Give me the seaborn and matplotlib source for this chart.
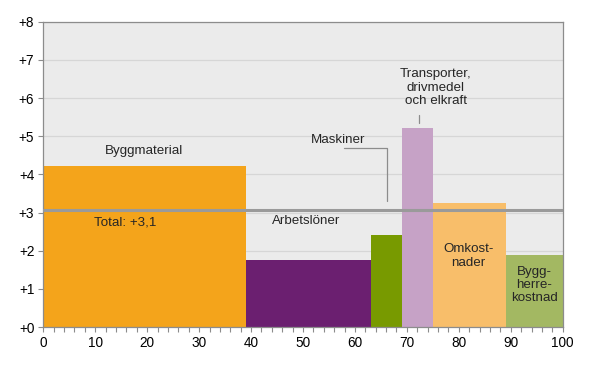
import matplotlib
matplotlib.use("Agg")
import matplotlib.pyplot as plt
import seaborn as sns
import pandas as pd
import numpy as np
from matplotlib.ticker import MultipleLocator

categories = ["Byggmaterial", "Arbetslöner", "Maskiner", "Transporter", "Omkostnader", "Byggherrekostnad"]
edges = [0, 39.0, 63.1, 69.05, 75.0, 89.1, 100]
values = [4.23, 1.76, 2.41, 5.21, 3.25, 1.89]
total = 3.06
colors = ["#F4A41B", "#6B1F70", "#789A00", "#C6A2C6", "#F8BE6A", "#A3B862"]
ytick_labels = ["+0", "+1", "+2", "+3", "+4", "+5", "+6", "+7", "+8"]

sns.set_theme(style="white")
plt.rcParams["font.family"] = ["Liberation Sans", "DejaVu Sans"]

mids = [(edges[i] + edges[i + 1]) / 2 for i in range(len(categories))]
df = pd.DataFrame({"cat": categories, "mid": mids, "val": values})

fig = plt.figure(figsize=(5.95, 3.69), dpi=100)
ax = fig.add_axes([0.0728, 0.1138, 0.8729, 0.8272])
ax.set_facecolor("#EBEBEB")

sns.histplot(data=df, x="mid", weights="val", hue="cat", bins=edges,
             palette=dict(zip(categories, colors)), hue_order=categories,
             multiple="layer", alpha=1, linewidth=0, legend=False, ax=ax, zorder=2)

ax.axhline(total, color="#9A9A9A", lw=2.2, zorder=3)

ax.set_xlim(0, 100)
ax.set_ylim(0, 8)
ax.set_yticks(range(9))
ax.set_yticklabels(ytick_labels)
ax.xaxis.set_major_locator(MultipleLocator(10))
ax.xaxis.set_minor_locator(MultipleLocator(2))
ax.grid(axis="y", color="#D6D6D6", lw=0.9, zorder=0)
ax.set_axisbelow(True)
ax.set_xlabel("")
ax.set_ylabel("")
for s in ax.spines.values():
    s.set_color("#8C8C8C")
    s.set_linewidth(0.9)
ax.tick_params(axis="both", which="both", direction="out", color="#8C8C8C",
               labelsize=9.8, labelcolor="black", length=3.5, width=0.8, pad=3)
ax.tick_params(axis="x", which="minor", length=3.5, width=0.8, bottom=True)
ax.tick_params(axis="x", which="major", bottom=True)
ax.tick_params(axis="y", left=True)

fs = 9.6
ls = 1.15
ax.text(19.3, 4.62, "Byggmaterial", ha="center", va="center", fontsize=fs, zorder=4)
ax.text(15.7, 2.75, "Total: +3,1", ha="center", va="center", fontsize=fs, zorder=4)
ax.text(50.6, 2.78, "Arbetslöner", ha="center", va="center", fontsize=fs, zorder=4)
ax.text(56.7, 4.89, "Maskiner", ha="center", va="center", fontsize=fs, zorder=4)
ax.plot([57.9, 66.2, 66.2], [4.68, 4.68, 3.30], color="#8C8C8C", lw=0.9, zorder=4)
ax.text(75.6, 6.27, "Transporter,\ndrivmedel\noch elkraft", ha="center", va="center",
        fontsize=fs, linespacing=ls, zorder=4)
ax.plot([72.3, 72.3], [5.56, 5.35], color="#8C8C8C", lw=0.9, zorder=4)
ax.text(81.8, 1.86, "Omkost-\nnader", ha="center", va="center", fontsize=fs,
        linespacing=ls, zorder=4)
ax.text(94.5, 1.10, "Bygg-\nherre-\nkostnad", ha="center", va="center", fontsize=fs,
        linespacing=ls, zorder=4)

fig.savefig("out.png", dpi=100)
